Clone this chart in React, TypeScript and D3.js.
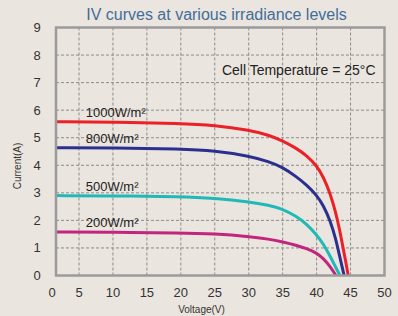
import React from "react";
import * as d3 from "d3";

const title = "IV curves at various irradiance levels";
const annotation = "Cell Temperature = 25°C";
const xTicks = [0, 5, 10, 15, 20, 25, 30, 35, 40, 45, 50];
const yTicks = [0, 1, 2, 3, 4, 5, 6, 7, 8, 9];
const seriesNames = ["1000W/m²", "800W/m²", "500W/m²", "200W/m²"];
const seriesColors = ["#ec2027", "#2b2f8e", "#1fbab8", "#c2247e"];

const v1000 = [0, 10, 20, 25, 30, 33, 35, 37, 38.5, 40, 41, 42, 42.8, 43.4, 43.9, 44.3, 44.65];
const i1000 = [5.58, 5.57, 5.52, 5.45, 5.28, 5.09, 4.89, 4.62, 4.36, 3.99, 3.58, 2.98, 2.3, 1.65, 1.0, 0.5, 0];
const v800 = [0, 10, 20, 25, 30, 33, 35, 37, 38.5, 40, 41, 42, 42.8, 43.4, 43.75, 44.05];
const i800 = [4.64, 4.63, 4.59, 4.53, 4.34, 4.13, 3.93, 3.59, 3.29, 2.92, 2.54, 1.99, 1.35, 0.69, 0.32, 0];
const v500 = [0, 10, 20, 25, 30, 33, 35, 37, 38.5, 40, 41, 42, 42.8, 43.45];
const i500 = [2.9, 2.89, 2.86, 2.8, 2.68, 2.55, 2.41, 2.15, 1.88, 1.48, 1.14, 0.7, 0.3, 0];
const v200 = [0, 10, 20, 25, 30, 33, 35, 37, 38.5, 40, 41, 42, 42.85];
const i200 = [1.58, 1.57, 1.55, 1.51, 1.42, 1.32, 1.22, 1.1, 0.98, 0.82, 0.62, 0.33, 0];

const voltages = [v1000, v800, v500, v200];
const currents = [i1000, i800, i500, i200];
const labelVoltage = 6;

export default function App() {
  const W = 398, H = 316;
  const x = d3.scaleLinear().domain([0, 5, 50]).range([56, 79, 384.5]);
  const y = d3.scaleLinear().domain([0, 9]).range([275.5, 27.5]);
  const line = d3.line<[number, number]>()
    .x(d => x(d[0]))
    .y(d => y(d[1]))
    .curve(d3.curveBasis);
  const [x0, x1] = [x(0), x(50)];
  const [y0, y1] = [y(0), y(9)];
  const font = "Liberation Sans, Arial, sans-serif";
  return (
    <svg width={W} height={H} style={{ position: "absolute", left: 0, top: 0, background: "#ebe5df" }} fontFamily={font}>
      <rect x={0} y={0} width={W} height={H} fill="#ebe5df" />
      {xTicks.slice(1, -1).map(t => (
        <line key={"gx" + t} x1={x(t)} x2={x(t)} y1={y0} y2={y1} stroke="#8c8c8c" strokeWidth={1} strokeDasharray="3,2" />
      ))}
      {yTicks.slice(1, -1).map(t => (
        <line key={"gy" + t} x1={x0} x2={x1} y1={y(t)} y2={y(t)} stroke="#8c8c8c" strokeWidth={1} strokeDasharray="3,2" />
      ))}
      {voltages.map((vs, k) => (
        <path key={"s" + k} d={line(vs.map((v, j) => [v, currents[k][j]]) as [number, number][]) || ""} fill="none" stroke={seriesColors[k]} strokeWidth={3} />
      ))}
      {seriesNames.map((n, k) => (
        <text key={"l" + k} x={x(labelVoltage)} y={y(currents[k][0]) - 4.5} fontSize={13} fill="#222">{n}</text>
      ))}
      <rect x={x0} y={y1} width={x1 - x0} height={y0 - y1} fill="none" stroke="#9b9b9b" strokeWidth={2.5} />
      {xTicks.map(t => (
        <text key={"tx" + t} x={x(t) - (t === 0 ? 4 : 0)} y={296.5} fontSize={13} fill="#333" textAnchor="middle">{t}</text>
      ))}
      {yTicks.map(t => (
        <text key={"ty" + t} x={37} y={y(t) + 4.5} fontSize={13} fill="#333" textAnchor="middle">{t}</text>
      ))}
      <text x={216.5} y={19.5} fontSize={16} fill="#3f6e98" textAnchor="middle">{title}</text>
      <text x={375.5} y={75} fontSize={14} fill="#222" textAnchor="end">{annotation}</text>
      <text x={201.5} y={312.5} fontSize={10} fill="#333" textAnchor="middle">Voltage(V)</text>
      <text transform="translate(21,166) rotate(-90)" fontSize={10} fill="#333" textAnchor="middle">Current(A)</text>
    </svg>
  );
}
